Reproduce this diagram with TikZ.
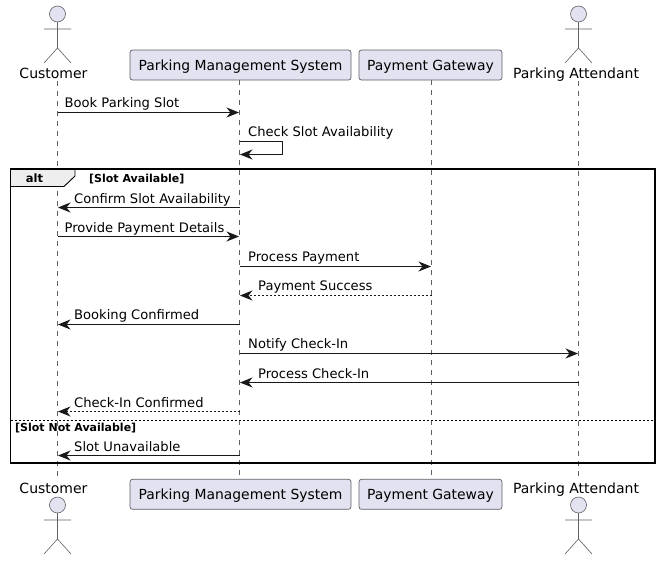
\documentclass[tikz,border=0pt]{standalone}
\usepackage{fontspec}
\setmainfont{DejaVu Sans}
\usetikzlibrary{arrows.meta}
\definecolor{partfill}{HTML}{E2E2F0}
\definecolor{partline}{HTML}{5F5F66}
\definecolor{tabfill}{HTML}{EEEEEE}
\definecolor{inkc}{HTML}{181818}
\newcommand{\actorfig}[3]{%
  \draw[actorline,fill=partfill] (#1,#2) circle[radius=8];
  \draw[actorline] (#1,#2+8) -- (#1,#2+34) (#1-13.5,#2+15) -- (#1+13.5,#2+15)
    (#1-13.5,#2+49) -- (#1,#2+34) -- (#1+13.5,#2+49);
}
\tikzset{
  x=1pt,y=-1pt,
  actorline/.style={draw=partline,line width=0.6pt},
  lifeline/.style={draw=partline,line width=0.6pt,dash pattern=on 5pt off 5pt},
  partbox/.style={draw=partline,fill=partfill,rounded corners=2.5pt,line width=0.7pt,minimum height=30pt,inner sep=0pt,anchor=center,text=black,text height=13pt,text depth=3pt,font=\fontsize{13.9}{15}\selectfont},
  actorlabel/.style={inner sep=0pt,anchor=base,text=black,font=\fontsize{14}{15}\selectfont},
  msg/.style={draw=inkc,line width=0.9pt,-{Stealth[length=12.5pt,width=10pt,inset=4pt]}},
  reply/.style={msg,dash pattern=on 2pt off 2pt},
  msglabel/.style={inner sep=0pt,anchor=base west,text=black,font=\fontsize{13.1}{14}\selectfont},
  guard/.style={inner sep=0pt,anchor=base west,text=black,font=\fontsize{11}{12}\bfseries\selectfont},
  framebox/.style={draw=black,line width=1.5pt},
}
\begin{document}
\begin{tikzpicture}
\useasboundingbox (0,0) rectangle (661,560);
% lifelines
\node[actorlabel] (cT) at (53.5,78) {Customer};
\node[actorlabel] (cB) at (53.5,493) {Customer};
\node[partbox,minimum width=221pt] (pT) at (240.5,65) {Parking Management System};
\node[partbox,minimum width=221pt] (pB) at (240.5,494.3) {Parking Management System};
\node[partbox,minimum width=143pt] (gT) at (430.5,65) {Payment Gateway};
\node[partbox,minimum width=143pt] (gB) at (430.5,494.3) {Payment Gateway};
\node[actorlabel] (aT) at (576,78) {Parking Attendant};
\node[actorlabel] (aB) at (576,493) {Parking Attendant};
\coordinate (cl1) at (57.5,81); \coordinate (cl2) at (57.5,479);
\coordinate (pl1) at (239.5,80); \coordinate (pl2) at (239.5,479);
\coordinate (gl1) at (431.5,80); \coordinate (gl2) at (431.5,479);
\coordinate (al1) at (578.5,81); \coordinate (al2) at (578.5,479);
\draw[lifeline] (cl1) -- (cl2);
\draw[lifeline] (pl1) -- (pl2);
\draw[lifeline] (gl1) -- (gl2);
\draw[lifeline] (al1) -- (al2);
% actors
\actorfig{57.5}{14}{}
\actorfig{578.5}{14}{}
\actorfig{57.5}{505}{}
\actorfig{578.5}{505}{}
% frame
\coordinate (f1) at (10.5,169); \coordinate (f2) at (655,463);
\fill[tabfill] (10.5,169) -- (75,169) -- (75,176) -- (64,186.5) -- (10.5,186.5) -- cycle;
\draw[line width=0.9pt,draw=black] (75,169) -- (75,176) -- (64,186.5) -- (10.5,186.5);
\draw[framebox] (f1) rectangle (f2);
\node[inner sep=0pt,text=black,font=\fontsize{11.5}{14}\bfseries\selectfont] (altl) at (34.5,178) {alt};
\node[guard] (g1) at (89,182) {[Slot Available]};
\node[guard] (g2) at (15,431) {[Slot Not Available]};
\coordinate (s1) at (10.5,420.5); \coordinate (s2) at (655,420.5);
\draw[draw=black,line width=0.8pt,dash pattern=on 2pt off 2pt] (s1) -- (s2);
% messages
\draw[msg] (57.5,112.5) -- (239,112.5);
\node[msglabel] (m1) at (64.5,107) {Book Parking Slot};
\draw[msg] (239.5,141.5) -- (282.5,141.5) -- (282.5,154.5) -- (240,154.5);
\node[msglabel] (m2) at (248,136) {Check Slot Availability};
\draw[msg] (239.5,207.5) -- (58,207.5);
\node[msglabel] (m3) at (74,203) {Confirm Slot Availability};
\draw[msg] (57.5,236.5) -- (239,236.5);
\node[msglabel] (m4) at (64.5,232) {Provide Payment Details};
\draw[msg] (239.5,266.5) -- (431,266.5);
\node[msglabel] (m5) at (248,261) {Process Payment};
\draw[reply] (431.5,295.5) -- (240,295.5);
\node[msglabel] (m6) at (258,290) {Payment Success};
\draw[msg] (239.5,324.5) -- (58,324.5);
\node[msglabel] (m7) at (74,319) {Booking Confirmed};
\draw[msg] (239.5,353.5) -- (578,353.5);
\node[msglabel] (m8) at (248,348) {Notify Check-In};
\draw[msg] (578.5,382.5) -- (240,382.5);
\node[msglabel] (m9) at (258,378) {Process Check-In};
\draw[reply] (239.5,411.5) -- (58,411.5);
\node[msglabel] (m10) at (74,407) {Check-In Confirmed};
\draw[msg] (239.5,455.5) -- (58,455.5);
\node[msglabel] (m11) at (74,451) {Slot Unavailable};
\end{tikzpicture}
\end{document}
